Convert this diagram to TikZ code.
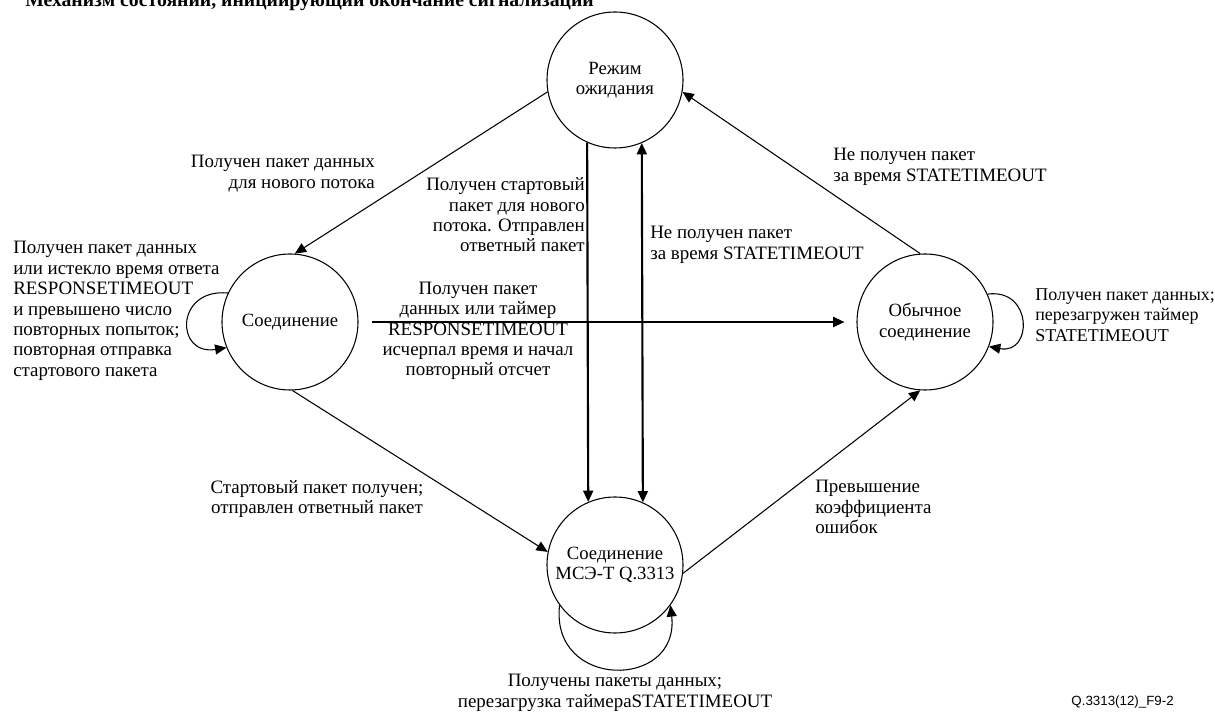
\documentclass[tikz,border=0pt]{standalone}
\usepackage{fontspec}
\setmainfont{Liberation Serif}
\newfontfamily\footfont{Liberation Sans}
\usetikzlibrary{arrows.meta,calc}
\begin{document}
\begin{tikzpicture}[x=0.75pt,y=-0.75pt,
  state/.style={circle,draw,line width=0.8pt,minimum size=102pt,inner sep=0pt,align=center,font=\fontsize{14}{15.3}\selectfont},
  lbl/.style={inner sep=0pt,font=\fontsize{14.2}{15.3}\selectfont},
  thinline/.style={line width=0.8pt},
  heavy/.style={line width=1.6pt},
  arr/.style={-{Triangle[length=8.5pt,width=7.5pt]}},
  arrboth/.style={{Triangle[length=8.5pt,width=7.5pt]}-{Triangle[length=8.5pt,width=7.5pt]}}
]
\useasboundingbox (0,0) rectangle (1215,712);

\node[anchor=base west,inner sep=0pt,font=\bfseries\fontsize{14.8}{16}\selectfont] (title) at (25,7) {Механизм состояний, инициирующий окончание сигнализации};

\node[state] (T) at (615,80) {Режим\\ожидания};
\node[state] (L) at (290,322) {Соединение};
\node[state] (R) at (925,322) {Обычное\\соединение};
\node[state] (B) at (615,565) {Соединение\\МСЭ-Т Q.3313};

\draw[thinline,arr] (T.190) -- (L.86);
\draw[heavy,arr] (T.246.6) -- (B.113.4);
\draw[heavy,arrboth] (B.66.6) -- (T.293.4);
\coordinate (hs) at ($(L.east)+(13,0)$);
\coordinate (he) at ($(R.west)+(-12,0)$);
\draw[heavy,arr] (hs) -- (he);
\draw[thinline,arr] (R.94) -- (T.-10);
\draw[thinline,arr] (L.272) -- (B.169);
\draw[thinline,arr] (B.-7) -- (R.266);
\draw[thinline,arr] (L.155) .. controls (175,288) and (175,356) .. (L.202);
\draw[thinline,arr] (R.24) .. controls (1033,288) and (1033,355) .. (R.-21);
\draw[thinline,arr] (B.216) .. controls (550,690) and (680,690) .. (B.324);

\node[lbl,align=right,anchor=east] (l1) at (375,173.5) {Получен пакет данных\\для нового потока};
\node[lbl,align=right,anchor=east] (l2) at (585,215) {Получен стартовый\\пакет для нового\\потока. Отправлен\\ответный пакет};
\node[lbl,align=left,anchor=west] (l3) at (650,245) {Не получен пакет\\за время STATETIMEOUT};
\node[lbl,align=center] (l4) at (478,331) {Получен пакет\\данных или таймер\\RESPONSETIMEOUT\\исчерпал время и начал\\повторный отсчет};
\node[lbl,align=left,anchor=west] (l5) at (833,167) {Не получен пакет\\за время STATETIMEOUT};
\node[lbl,align=left,anchor=west,font=\fontsize{13.5}{15.3}\selectfont] (l6) at (1035,315) {Получен пакет данных;\\перезагружен таймер\\STATETIMEOUT};
\node[lbl,align=left,anchor=west] (l7) at (13,311) {Получен пакет данных\\или истекло время ответа\\RESPONSETIMEOUT\\и превышено число\\повторных попыток;\\повторная отправка\\стартового пакета};
\node[lbl,align=center] (l8) at (317,499) {Стартовый пакет получен;\\отправлен ответный пакет};
\node[lbl,align=left,anchor=west] (l9) at (815,507) {Превышение\\коэффициента\\ошибок};
\node[lbl,align=center] (l10) at (615,693) {Получены пакеты данных;\\перезагрузка таймераSTATETIMEOUT};
\node[anchor=east,inner sep=0pt,font=\footfont\fontsize{10}{12}\selectfont] (fig) at (1174,702) {Q.3313(12)\_F9-2};
\end{tikzpicture}
\end{document}
